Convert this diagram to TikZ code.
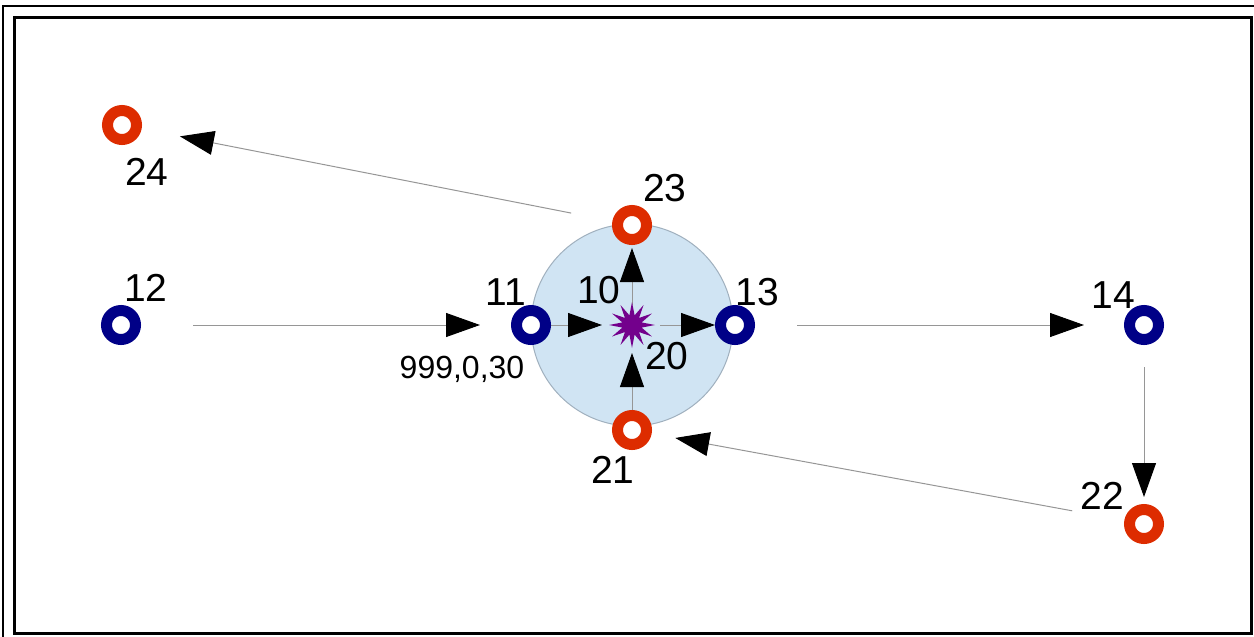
\documentclass[tikz,border=0pt]{standalone}
\usepackage{fontspec}
\setmainfont{Liberation Sans}
\usetikzlibrary{arrows.meta,shapes.geometric}
\definecolor{ringred}{RGB}{221,44,0}
\definecolor{ringblue}{RGB}{0,0,135}
\definecolor{starpurple}{RGB}{115,0,140}
\definecolor{zonefill}{RGB}{208,228,243}
\definecolor{zoneedge}{RGB}{160,176,190}
\definecolor{linkgray}{RGB}{150,150,150}
\tikzset{
  ring/.style={circle,draw,line width=11pt,minimum size=29pt,inner sep=0pt,outer sep=0pt,fill=white},
  redring/.style={ring,draw=ringred},
  bluering/.style={ring,draw=ringblue},
  lbl/.style={inner sep=0pt,font=\fontsize{39}{39}\selectfont},
  smalllbl/.style={inner sep=0pt,font=\fontsize{32}{32}\selectfont},
  link/.style={draw=linkgray,line width=1pt,-{Triangle[length=34pt,width=24pt,color=black]}},
}
\begin{document}
\begin{tikzpicture}[x=1pt,y=-1pt]
\useasboundingbox (0,0) rectangle (1254,637);
% page frames
\draw[line width=2pt] (2.5,637) -- (2.5,5.5) -- (1254,5.5);
\draw[line width=3pt] (14.5,17.5) rectangle (1251.5,633.5);
% central zone
\node[circle,fill=zonefill,draw=zoneedge,line width=1pt,minimum size=202pt,inner sep=0pt] (zone) at (632,325) {};
% links drawn first so that rings sit on top
\coordinate (p12) at (121,325);
\coordinate (p11) at (531,325);
\coordinate (p13) at (735,325);
\coordinate (p14) at (1144,325);
\coordinate (p22) at (1144,524);
\coordinate (p21) at (632,430);
\coordinate (p23) at (632,225);
\coordinate (p24) at (122,125);
\coordinate (ps) at (632,325);
\draw[link,shorten <=72pt,shorten >=51pt] (p12) -- (p11);
\draw[link,shorten <=19pt,shorten >=30pt] (p11) -- (ps);
\draw[link,shorten <=28pt,shorten >=20pt] (ps) -- (p13);
\draw[link,shorten <=20pt,shorten >=23pt] (ps) -- (p23);
\draw[link,shorten <=20pt,shorten >=28pt] (p21) -- (ps);
\draw[link,shorten <=62pt,shorten >=60pt] (p13) -- (p14);
\draw[link,shorten <=42pt,shorten >=27pt] (p14) -- (p22);
\draw[link,shorten <=73pt,shorten >=44pt] (p22) -- (p21);
\draw[link,shorten <=62pt,shorten >=59pt] (p23) -- (p24);
% nodes
\node[bluering] (n12) at (p12) {};
\node[bluering] (n11) at (p11) {};
\node[bluering] (n13) at (p13) {};
\node[bluering] (n14) at (p14) {};
\node[redring] (n22) at (p22) {};
\node[redring] (n21) at (p21) {};
\node[redring] (n23) at (p23) {};
\node[redring] (n24) at (p24) {};
\node[star,star points=12,star point ratio=2.3,minimum size=46pt,inner sep=0pt,fill=starpurple] (s) at (ps) {};
% labels
\node[lbl] (l24) at (147,172) {24};
\node[lbl] (l12) at (146,288) {12};
\node[lbl] (l11) at (506,292) {11};
\node[lbl] (l10) at (599,290) {10};
\node[lbl] (l23) at (665,188) {23};
\node[lbl] (l13) at (757,292) {13};
\node[lbl] (l20) at (667,356) {20};
\node[lbl] (l21) at (613,470) {21};
\node[lbl] (l14) at (1113,295) {14};
\node[lbl] (l22) at (1102,496) {22};
\node[smalllbl] (lp) at (462,369) {999,0,30};
\end{tikzpicture}
\end{document}
